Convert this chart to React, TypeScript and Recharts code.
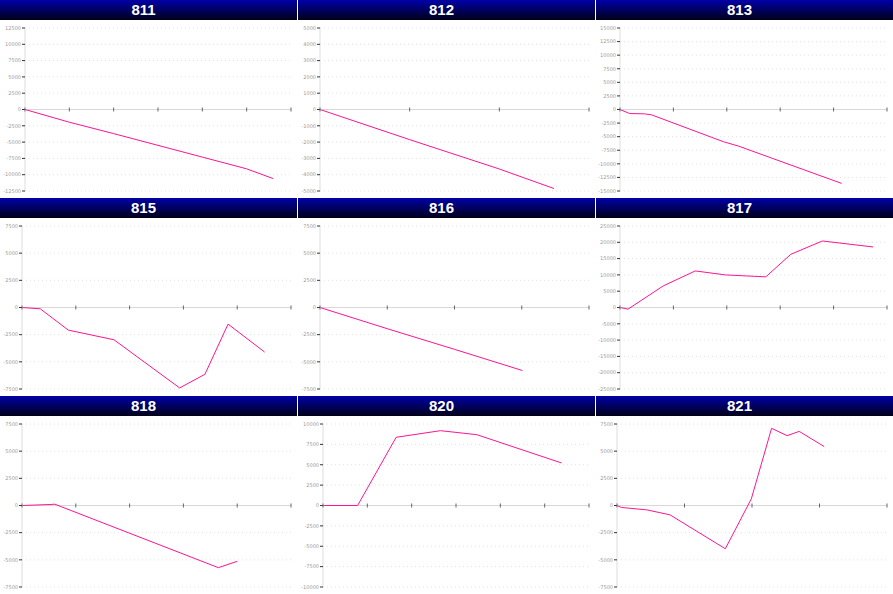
import React from 'react'
import { LineChart, Line, XAxis, YAxis, CartesianGrid, ReferenceLine, ReferenceDot } from 'recharts'

const x811 = [0, 1, 2, 3, 4, 5, 5.6]
const y811 = [0, -1950, -3700, -5500, -7300, -9100, -10600]
const ticks811 = [12500, 10000, 7500, 5000, 2500, 0, -2500, -5000, -7500, -10000, -12500]

const x812 = [0, 1, 2, 2.61]
const y812 = [0, -1850, -3650, -4850]
const ticks812 = [5000, 4000, 3000, 2000, 1000, 0, -1000, -2000, -3000, -4000, -5000]

const x813 = [0, 0.18, 0.46, 0.59, 1.94, 2.22, 4.15]
const y813 = [0, -740, -800, -980, -5940, -6740, -13600]
const ticks813 = [15000, 12500, 10000, 7500, 5000, 2500, 0, -2500, -5000, -7500, -10000, -12500, -15000]

const x815 = [0, 0.34, 0.86, 1.71, 2.93, 3.4, 3.83, 4.51]
const y815 = [0, -120, -2080, -2970, -7400, -6150, -1530, -4100]
const ticks7500 = [7500, 5000, 2500, 0, -2500, -5000, -7500]

const x816 = [0, 1, 2, 3.01]
const y816 = [0, -1950, -3850, -5800]

const x817 = [0, 0.15, 0.81, 1.41, 1.97, 2.73, 3.2, 3.79, 4.74]
const y817 = [0, -510, 6630, 11220, 10000, 9400, 16330, 20400, 18570]
const ticks817 = [25000, 20000, 15000, 10000, 5000, 0, -5000, -10000, -15000, -20000, -25000]

const x818 = [0, 0.52, 0.61, 3.65, 4.0]
const y818 = [0, 90, 120, -5720, -5140]

const x820 = [0, 0.78, 1.65, 2.65, 3.47, 5.38]
const y820 = [0, 0, 8370, 9180, 8690, 5220]
const ticks820 = [10000, 7500, 5000, 2500, 0, -2500, -5000, -7500, -10000]

const x821 = [0, 0.065, 0.44, 0.785, 1.605, 1.99, 2.29, 2.52, 2.7, 3.07]
const y821 = [0, -180, -400, -860, -3980, 610, 7100, 6430, 6820, 5420]

const panels = [
  { title: '811', xs: x811, ys: y811, ticks: ticks811, nx: 6, yw: 25 },
  { title: '812', xs: x812, ys: y812, ticks: ticks812, nx: 3, yw: 22 },
  { title: '813', xs: x813, ys: y813, ticks: ticks813, nx: 5, yw: 24 },
  { title: '815', xs: x815, ys: y815, ticks: ticks7500, nx: 5, yw: 22 },
  { title: '816', xs: x816, ys: y816, ticks: ticks7500, nx: 4, yw: 22 },
  { title: '817', xs: x817, ys: y817, ticks: ticks817, nx: 5, yw: 24 },
  { title: '818', xs: x818, ys: y818, ticks: ticks7500, nx: 5, yw: 22 },
  { title: '820', xs: x820, ys: y820, ticks: ticks820, nx: 6, yw: 25 },
  { title: '821', xs: x821, ys: y821, ticks: ticks7500, nx: 4, yw: 21 },
]

const TickMark = (props: any) => {
  const { cx, cy } = props
  if (cx == null || cy == null) return null
  return <line x1={cx} x2={cx} y1={cy - 2} y2={cy + 2} stroke="#666" strokeWidth={1} />
}

function Panel({ p }: { p: any }) {
  const data = p.xs.map((x: number, i: number) => ({ x, v: p.ys[i] }))
  const max = p.ticks[0]
  const xt = Array.from({ length: p.nx + 1 }, (_, i) => i)
  return (
    <div style={{ width: 297, height: 197, background: '#fff' }}>
      <div style={{
        height: 20, background: 'linear-gradient(#0000a8, #000018)', color: '#fff',
        fontFamily: '"Liberation Sans", Arial, sans-serif', fontWeight: 'bold', fontSize: 15,
        lineHeight: '20px', textAlign: 'center', paddingRight: 10, boxSizing: 'border-box',
      }}>
        {p.title}
      </div>
      <LineChart width={297} height={177} data={data} margin={{ top: 8, right: 6, bottom: 6, left: 0 }}>
        <CartesianGrid vertical={false} stroke="#e2e2e2" strokeDasharray="1 3" />
        <XAxis dataKey="x" type="number" domain={[0, p.nx]} ticks={xt} hide />
        <YAxis
          domain={[-max, max]}
          ticks={p.ticks}
          interval={0}
          width={p.yw}
          tick={{ fontSize: 5, fill: '#9a9a9a', fontFamily: '"DejaVu Sans", sans-serif' }}
          tickLine={{ stroke: '#333' }}
          tickSize={3}
          tickMargin={1}
          axisLine={{ stroke: '#ddd' }}
        />
        <ReferenceLine y={0} stroke="#d8d8d8" strokeWidth={1} />
        {xt.map((t) => (
          <ReferenceDot key={t} x={t} y={0} r={2} shape={<TickMark />} ifOverflow="visible" />
        ))}
        <Line type="linear" dataKey="v" stroke="#ff1493" strokeWidth={1} dot={false} isAnimationActive={false} />
      </LineChart>
    </div>
  )
}

export default function App() {
  return (
    <div style={{
      position: 'absolute', left: 0, top: 0, width: 893, height: 594, background: '#fff',
      display: 'grid', gridTemplateColumns: '297px 297px 297px', gridAutoRows: '197px',
      columnGap: 1, rowGap: 1,
    }}>
      {panels.map((p) => <Panel key={p.title} p={p} />)}
    </div>
  )
}
